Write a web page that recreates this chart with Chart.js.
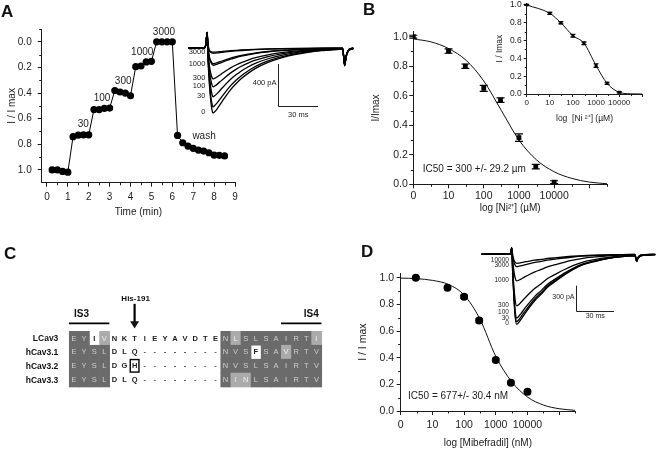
<!DOCTYPE html>
<html>
<head>
<meta charset="utf-8">
<script src="https://cdn.jsdelivr.net/npm/chart.js@4/dist/chart.umd.min.js"></script>
<style>
  body { margin: 0; background: #fff; }
  #fig { position: relative; width: 656px; height: 450px; overflow: hidden; background: #fff; }
  #fig canvas { position: absolute; }
  .panel { position: absolute; font: bold 17px/17px "Liberation Sans", Arial, sans-serif; color: #111; }
</style>
</head>
<body>
<div id="fig">
  <canvas id="cB" width="326" height="225" style="left:330px;top:0px"></canvas>
  <canvas id="cBi" width="166" height="133" style="left:490px;top:-8px"></canvas>
  <canvas id="cA" width="330" height="225" style="left:0px;top:0px"></canvas>
  <canvas id="cAi" width="176" height="100" style="left:180px;top:20px"></canvas>
  <canvas id="cC" width="330" height="225" style="left:0px;top:225px"></canvas>
  <canvas id="cD" width="326" height="225" style="left:330px;top:225px"></canvas>
  <canvas id="cDi" width="178" height="90" style="left:478px;top:240px"></canvas>
  <div class="panel" style="left:1px;top:3px">A</div>
  <div class="panel" style="left:363px;top:1px">B</div>
  <div class="panel" style="left:4px;top:245px">C</div>
  <div class="panel" style="left:361px;top:243px">D</div>
</div>
<script>
var FONT = '"Liberation Sans", Arial, Helvetica, sans-serif';
var INK = '#1c1c1c';

// ---- panel A : time course ----
var timeMin = [0.25, 0.5, 0.75, 1.0, 1.25, 1.5, 1.75, 2.0, 2.25, 2.5, 2.75, 3.0, 3.25, 3.5, 3.75, 4.0, 4.25, 4.5, 4.75, 5.0,
               5.25, 5.5, 5.75, 6.0, 6.25, 6.5, 6.75, 7.0, 7.25, 7.5, 7.75, 8.0, 8.25, 8.5];
var relCurrent = [1.0, 1.0, 1.012, 1.018, 0.741, 0.729, 0.726, 0.726, 0.529, 0.529, 0.519, 0.517, 0.38, 0.392, 0.4, 0.421,
                  0.194, 0.189, 0.157, 0.152, 0.0, 0.0, 0.0, 0.0, 0.731, 0.788, 0.814, 0.832, 0.845, 0.853, 0.866, 0.884, 0.886, 0.891];
var stepLabels = ['30', '100', '300', '1000', '3000', 'wash'];
var stepLabelX = [1.74, 2.64, 3.65, 4.56, 5.6, 7.52];
var stepLabelY = [0.646, 0.444, 0.305, 0.08, -0.075, 0.74];

// panel A inset traces (ms, pA)
var traceMsA   = [0, 12, 13.5, 14.3, 15, 16, 17, 18, 18.8, 20, 22, 25, 28, 32, 36, 40, 45, 50, 60, 70, 80, 90, 100, 110, 116, 117.5, 118.5, 120, 122, 124];
var spikeA     = [0, 0, 40, 150, 50, 0, 0, 0, 0, 0, 0, 0, 0, 0, 0, 0, 0, 0, 0, 0, 0, 0, 0, 0, 0, -160, -80, -25, -5, 0];
var shapeA     = [0, 0, 0, 0, 0.25, 0.55, 0.8, 0.95, 1.0, 0.98, 0.93, 0.84, 0.75, 0.64, 0.55, 0.47, 0.39, 0.32, 0.22, 0.15, 0.1, 0.065, 0.04, 0.025, 0.018, 0.016, 0.015, 0.013, 0.012, 0.01];
var traceAmpA  = [620, 560, 465, 370, 295, 165, 150, 50, 40];
var traceTagA  = ['0', '', '30', '100', '300', '1000', '', '3000', ''];

// ---- panel B : Ni2+ dose response ----
var logNi       = [0, 1, 1.477, 2, 2.477, 3, 3.477, 4];
var niMain      = [1.0, 0.903, 0.80, 0.65, 0.57, 0.316, 0.12, 0.014];
var niMainErr   = [0.01, 0.015, 0.015, 0.02, 0.015, 0.025, 0.015, 0.01];
var niFitLog    = [0, 0.5, 1, 1.5, 2, 2.5, 3, 3.5, 4, 4.5, 5, 5.5];
var niFit       = [0.985, 0.965, 0.92, 0.84, 0.70, 0.50, 0.30, 0.165, 0.085, 0.04, 0.015, 0.004];
var niInset     = [1.0, 0.906, 0.80, 0.655, 0.57, 0.32, 0.12, 0.019];
var niInsetErr  = [0.006, 0.012, 0.012, 0.015, 0.015, 0.02, 0.012, 0.008];
var niInsetFitLog = [0, 1, 1.477, 2, 2.477, 3, 3.477, 4, 4.5, 5];
var niInsetFit    = [1.0, 0.906, 0.80, 0.655, 0.57, 0.32, 0.12, 0.019, 0.002, 0.0];
var logTickLabels = ['0', '10', '100', '1000', '10000', ''];

// ---- panel C : alignment ----
var seqNames = ['LCav3', 'hCav3.1', 'hCav3.2', 'hCav3.3'];
var seqs = ['EYIVNKTIEYAVDTENLSLSAIRTI',
            'EYSLDLQ--------NVSFSAVRTV',
            'EYSLDGH--------NVSLSAIRTV',
            'EYSLDLQ--------NINLSAIRTV'];
var shade = ['DDWL' + 'WWWWWWWWWWW' + 'DLDDDDDDDL',
             'DDDD' + 'WWWWWWWWWWW' + 'DDDWDDLDDD',
             'DDDD' + 'WWWWWWWWWWW' + 'DDDDDDDDDD',
             'DDDD' + 'WWWWWWWWWWW' + 'DLLDDDDDDD'];

// ---- panel D : mibefradil dose response ----
var logMib  = [0.477, 1.477, 2, 2.477, 3, 3.477, 4];
var mib     = [1.0, 0.925, 0.857, 0.678, 0.383, 0.2125, 0.145];
var mibErr  = [0.008, 0.01, 0.012, 0.015, 0.012, 0.01, 0.015];
var mibFitLog = [0, 0.5, 1, 1.5, 2, 2.5, 3, 3.5, 4, 4.5, 5, 5.5];
var mibFit    = [0.997, 0.993, 0.98, 0.95, 0.87, 0.69, 0.41, 0.22, 0.105, 0.045, 0.017, 0.005];

var traceMsD  = [0, 22, 23, 23.7, 24.5, 25.5, 26.5, 27.6, 29, 31, 34, 38, 42, 47, 52, 58, 65, 72, 80, 90, 100, 110, 121, 122.3, 123.2, 125, 128, 137];
var spikeD    = [0, 0, 25, 75, 20, 0, 0, 0, 0, 0, 0, 0, 0, 0, 0, 0, 0, 0, 0, 0, 0, 0, 0, -70, -40, -12, -3, 0];
var shapeD    = [0, 0, 0, 0, 0.3, 0.65, 0.9, 1.0, 0.98, 0.93, 0.85, 0.75, 0.66, 0.57, 0.47, 0.39, 0.3, 0.22, 0.15, 0.1, 0.06, 0.035, 0.02, 0.018, 0.017, 0.015, 0.012, 0.005];
var traceAmpD = [829, 798, 755, 612, 316, 147, 107];
var traceTagD = ['0', '30', '100', '300', '1000', '3000', '10000'];

Chart.defaults.font.family = FONT;
Chart.defaults.color = INK;

function pts(xs, ys) {
    return xs.map(function (x, i) { return { x: x, y: ys[i] }; });
}

function axis(o) {
    return {
        type: 'linear', position: o.pos, min: o.min, max: o.max, reverse: !!o.rev,
        afterFit: function (s) { if (s.isHorizontal()) s.height = o.size; else s.width = o.size; },
        afterBuildTicks: function (s) { s.ticks = o.major.map(function (v) { return { value: v }; }); },
        ticks: {
            autoSkip: false, maxRotation: 0, padding: o.pad, color: INK,
            font: { family: FONT, size: o.fs },
            callback: o.fmt || function (v) { return v.toFixed(1); }
        },
        grid: { drawOnChartArea: false, drawTicks: true, tickLength: o.tl, color: INK, lineWidth: 1 },
        border: { display: true, color: INK, width: 1 },
        title: { display: !!o.title, text: o.title, color: INK, font: { family: FONT, size: o.tfs }, padding: o.tpad }
    };
}

function logFmt(v) { return logTickLabels[Math.round(v)]; }

function minorTicks(list) {
    return {
        id: 'minorTicks',
        afterDraw: function (chart) {
            var ctx = chart.ctx;
            ctx.save();
            ctx.strokeStyle = INK;
            ctx.lineWidth = 1;
            list.forEach(function (m) {
                var s = chart.scales[m.axis];
                m.values.forEach(function (v) {
                    var p = Math.round(s.getPixelForValue(v)) + 0.5;
                    ctx.beginPath();
                    if (s.isHorizontal()) { ctx.moveTo(p, s.top); ctx.lineTo(p, s.top + m.len); }
                    else { ctx.moveTo(s.right, p); ctx.lineTo(s.right - m.len, p); }
                    ctx.stroke();
                });
            });
            ctx.restore();
        }
    };
}

function errorBars(errs, cap) {
    return {
        id: 'errorBars',
        afterDatasetsDraw: function (chart) {
            var ctx = chart.ctx, ys = chart.scales.y;
            var meta = chart.getDatasetMeta(0), data = chart.data.datasets[0].data;
            ctx.save();
            ctx.strokeStyle = '#000';
            ctx.lineWidth = 1.2;
            meta.data.forEach(function (el, i) {
                var t = ys.getPixelForValue(data[i].y + errs[i]);
                var b = ys.getPixelForValue(data[i].y - errs[i]);
                ctx.beginPath();
                ctx.moveTo(el.x, t); ctx.lineTo(el.x, b);
                ctx.moveTo(el.x - cap, t); ctx.lineTo(el.x + cap, t);
                ctx.moveTo(el.x - cap, b); ctx.lineTo(el.x + cap, b);
                ctx.stroke();
            });
            ctx.restore();
        }
    };
}

function notes(items) {
    return {
        id: 'notes',
        afterDraw: function (chart) {
            var ctx = chart.ctx, xs = chart.scales.x, ys = chart.scales.y;
            items.forEach(function (n) {
                ctx.save();
                ctx.font = n.font;
                ctx.fillStyle = INK;
                ctx.textAlign = n.align || 'center';
                ctx.textBaseline = 'middle';
                ctx.fillText(n.text, xs.getPixelForValue(n.x), ys.getPixelForValue(n.y));
                ctx.restore();
            });
        }
    };
}

function baseOptions(pad, scales) {
    return {
        responsive: false, animation: false, devicePixelRatio: 1, events: [],
        layout: { padding: pad },
        plugins: { legend: { display: false }, tooltip: { enabled: false } },
        scales: scales
    };
}

// current traces drawn with hidden scales; scale bar + labels via plugin
function traceChart(id, ms, spike, shape, amps, tags, cfg) {
    var datasets = amps.map(function (a) {
        return {
            data: ms.map(function (t, i) { return { x: t, y: spike[i] - a * shape[i] }; }),
            showLine: true, borderColor: '#000', borderWidth: 1.3, pointRadius: 0,
            cubicInterpolationMode: 'monotone'
        };
    });
    var bar = {
        id: 'scaleBar',
        afterDraw: function (chart) {
            var ctx = chart.ctx, xs = chart.scales.x, ys = chart.scales.y;
            ctx.save();
            ctx.strokeStyle = '#222';
            ctx.lineWidth = 1;
            var bx = Math.round(xs.getPixelForValue(cfg.barT)) + 0.5;
            var by0 = ys.getPixelForValue(cfg.barY);
            var by1 = Math.round(ys.getPixelForValue(cfg.barY - cfg.barPA)) + 0.5;
            var bx1 = xs.getPixelForValue(cfg.barT + cfg.barMs);
            ctx.beginPath();
            ctx.moveTo(bx, by0); ctx.lineTo(bx, by1); ctx.lineTo(bx1, by1);
            ctx.stroke();
            ctx.fillStyle = INK;
            ctx.font = cfg.font;
            ctx.textBaseline = 'middle';
            ctx.textAlign = 'right';
            ctx.fillText(cfg.paText, bx - 2, ys.getPixelForValue(cfg.paAt));
            ctx.textAlign = 'center';
            ctx.fillText('30 ms', (bx + bx1) / 2, by1 + cfg.msGap);
            // concentration tags at the peaks, kept apart
            ctx.font = cfg.tagFont;
            ctx.textAlign = 'right';
            var tx = xs.getPixelForValue(cfg.tagT), prev = Infinity;
            amps.map(function (a, i) { return { a: a, tag: tags[i] }; })
                .filter(function (t) { return t.tag; })
                .sort(function (p, q) { return q.a - p.a; })
                .forEach(function (t) {
                    var y = Math.min(ys.getPixelForValue(-t.a) - 1, prev - cfg.gap);
                    prev = y;
                    ctx.fillText(t.tag, tx, y);
                });
            ctx.restore();
        }
    };
    return new Chart(document.getElementById(id), {
        type: 'scatter',
        data: { datasets: datasets },
        options: baseOptions(0, {
            x: { type: 'linear', display: false, min: cfg.xmin, max: cfg.xmax },
            y: { type: 'linear', display: false, min: cfg.ymin, max: cfg.ymax }
        }),
        plugins: [bar]
    });
}

// ---------- A ----------
new Chart(document.getElementById('cA'), {
    type: 'scatter',
    data: { datasets: [{
        data: pts(timeMin, relCurrent), showLine: true,
        borderColor: '#000', borderWidth: 1, pointRadius: 3.6,
        pointBackgroundColor: '#000', pointBorderColor: '#000', pointBorderWidth: 0
    }] },
    options: baseOptions({ left: 0, top: 29, right: 95, bottom: 0 }, {
        x: axis({ pos: 'bottom', min: -0.25, max: 9, size: 42.3, major: [0, 1, 2, 3, 4, 5, 6, 7, 8, 9],
                  fmt: function (v) { return String(v); }, pad: 4.5, tl: 4, fs: 10,
                  title: 'Time (min)', tfs: 10, tpad: { top: 0, bottom: 7 } }),
        y: axis({ pos: 'left', min: -0.1, max: 1.1, rev: true, size: 41.7, major: [0, 0.2, 0.4, 0.6, 0.8, 1.0],
                  pad: 6, tl: 4, fs: 10, title: 'I / I max', tfs: 10, tpad: { top: 6, bottom: 0 } })
    }),
    plugins: [
        minorTicks([{ axis: 'x', len: 2.5, values: [0.5, 1.5, 2.5, 3.5, 4.5, 5.5, 6.5, 7.5, 8.5] },
                    { axis: 'y', len: 2.5, values: [-0.1, 0.1, 0.3, 0.5, 0.7, 0.9] }]),
        notes(stepLabels.map(function (t, i) {
            return { text: t, x: stepLabelX[i], y: stepLabelY[i], font: '10px ' + FONT };
        }))
    ]
});

traceChart('cAi', traceMsA, spikeA, shapeA, traceAmpA, traceTagA, {
    xmin: -6, xmax: 126, ymin: -686, ymax: 267,
    barT: 67.5, barY: -152, barPA: 400, barMs: 30, paText: '400 pA', paAt: -333, msGap: 8,
    font: '7.5px ' + FONT, tagFont: '7.5px ' + FONT, tagT: 13, gap: 8
});

// ---------- B ----------
new Chart(document.getElementById('cB'), {
    type: 'scatter',
    data: { datasets: [
        { data: pts(logNi, niMain), pointRadius: 3.4, pointStyle: 'rect',
          pointBackgroundColor: '#000', pointBorderColor: '#000', pointBorderWidth: 0 },
        { data: pts(niFitLog, niFit), showLine: true, borderColor: '#111', borderWidth: 1,
          pointRadius: 0, cubicInterpolationMode: 'monotone' }
    ] },
    options: baseOptions({ left: 0, top: 31.7, right: 49, bottom: 0 }, {
        x: axis({ pos: 'bottom', min: 0, max: 5.5, size: 40.7, major: [0, 1, 2, 3, 4, 5], fmt: logFmt,
                  pad: 2, tl: 4, fs: 10.5, title: 'log [Ni\u00B2\u207A] (\u00B5M)', tfs: 10,
                  tpad: { top: 0, bottom: 10.5 } }),
        y: axis({ pos: 'left', min: 0, max: 1.034, size: 83.3, major: [0, 0.2, 0.4, 0.6, 0.8, 1.0],
                  pad: 1.5, tl: 4, fs: 10.5, title: 'I/Imax', tfs: 10, tpad: { top: 40.7, bottom: 0 } })
    }),
    plugins: [
        minorTicks([{ axis: 'x', len: 2.5, values: [0.5, 1.5, 2.5, 3.5, 4.5, 5.5] },
                    { axis: 'y', len: 2.5, values: [0.1, 0.3, 0.5, 0.7, 0.9] }]),
        errorBars(niMainErr, 4),
        notes([{ text: 'IC50 = 300 +/- 29.2 \u00B5m', x: 0.27, y: 0.1, align: 'left', font: '10px ' + FONT }])
    ]
});

new Chart(document.getElementById('cBi'), {
    type: 'scatter',
    data: { datasets: [
        { data: pts(logNi, niInset), pointRadius: 2.2, pointStyle: 'rect',
          pointBackgroundColor: '#000', pointBorderColor: '#000', pointBorderWidth: 0 },
        { data: pts(niInsetFitLog, niInsetFit), showLine: true, borderColor: '#111', borderWidth: 1,
          pointRadius: 0, cubicInterpolationMode: 'monotone' }
    ] },
    options: baseOptions({ left: 0, top: 11.2, right: 13.7, bottom: 0 }, {
        x: axis({ pos: 'bottom', min: 0, max: 5, size: 31, major: [0, 1, 2, 3, 4, 5], fmt: logFmt,
                  pad: 1, tl: 3, fs: 8, title: 'log  [Ni \u00B2\u207A] (\u00B5M)', tfs: 8.5,
                  tpad: { top: 0, bottom: 1.5 } }),
        y: axis({ pos: 'left', min: 0, max: 1.02, size: 36.7, major: [0, 0.2, 0.4, 0.6, 0.8, 1.0],
                  pad: 2, tl: 3, fs: 8.5, title: 'I / Imax', tfs: 8.5, tpad: { top: 4.6, bottom: 0 } })
    }),
    plugins: [
        minorTicks([{ axis: 'x', len: 2, values: [0.5, 1.5, 2.5, 3.5, 4.5] },
                    { axis: 'y', len: 2, values: [0.1, 0.3, 0.5, 0.7, 0.9] }]),
        errorBars(niInsetErr, 2.5)
    ]
});

// ---------- C ----------
var cells = [];
seqs.forEach(function (s, r) {
    for (var c = 0; c < s.length; c++) cells.push({ x: c + 0.5, y: r + 0.5 });
});
var alignment = {
    id: 'alignment',
    afterDatasetsDraw: function (chart) {
        var ctx = chart.ctx, xs = chart.scales.x, ys = chart.scales.y;
        var px = function (v) { return xs.getPixelForValue(v); };
        var py = function (v) { return ys.getPixelForValue(v); };
        var cw = px(1) - px(0), rh = py(1) - py(0);
        var fills = { D: '#6b6b6b', L: '#ababab' };
        var inkFor = { D: '#cfcfcf', L: '#eeeeee', W: '#1a1a1a' };
        ctx.save();
        seqs.forEach(function (seq, r) {
            for (var c = 0; c < seq.length; c++) {
                var k = shade[r][c];
                if (fills[k]) {
                    ctx.fillStyle = fills[k];
                    ctx.fillRect(px(c), py(r), cw + 0.6, rh + 0.6);
                }
            }
        });
        ctx.textAlign = 'center';
        ctx.textBaseline = 'middle';
        seqs.forEach(function (seq, r) {
            for (var c = 0; c < seq.length; c++) {
                var k = shade[r][c], ch = seq[c];
                ctx.fillStyle = ch === '-' ? '#555' : inkFor[k];
                ctx.font = (k === 'W' ? 'bold ' : '') + '7.5px ' + FONT;
                ctx.fillText(ch, px(c + 0.5), py(r + 0.5) + 0.5);
            }
            ctx.fillStyle = '#111';
            ctx.font = 'bold 8.5px ' + FONT;
            ctx.textAlign = 'right';
            ctx.fillText(seqNames[r], px(-1.05), py(r + 0.5) + 0.5);
            ctx.textAlign = 'center';
        });
        // boxed His residue
        ctx.strokeStyle = '#000';
        ctx.lineWidth = 1.4;
        ctx.strokeRect(px(6) + 0.7, py(2) + 0.7, cw - 1.4, rh - 1.4);
        // IS3 / IS4 segment bars
        ctx.lineWidth = 1.8;
        ctx.beginPath();
        ctx.moveTo(px(0), py(-0.55)); ctx.lineTo(px(4), py(-0.55));
        ctx.moveTo(px(21), py(-0.55)); ctx.lineTo(px(25), py(-0.55));
        ctx.stroke();
        ctx.fillStyle = '#111';
        ctx.font = 'bold 10px ' + FONT;
        ctx.fillText('IS3', px(1.25), py(-1.22));
        ctx.fillText('IS4', px(24), py(-1.22));
        // arrow to His-191
        var ax = px(6.5);
        ctx.lineWidth = 2.2;
        ctx.beginPath();
        ctx.moveTo(ax, py(-1.95)); ctx.lineTo(ax, py(-0.6));
        ctx.stroke();
        ctx.beginPath();
        ctx.moveTo(ax - 4.5, py(-0.7)); ctx.lineTo(ax + 4.5, py(-0.7)); ctx.lineTo(ax, py(-0.18));
        ctx.closePath();
        ctx.fill();
        ctx.font = 'bold 8px ' + FONT;
        ctx.fillText('His-191', ax + 1, py(-2.3));
        ctx.restore();
    }
};
new Chart(document.getElementById('cC'), {
    type: 'scatter',
    data: { datasets: [{ data: cells, pointRadius: 0 }] },
    options: baseOptions({ left: 68.95, top: 106, right: 8.55, bottom: 63.3 }, {
        x: { type: 'linear', display: false, min: 0, max: 25 },
        y: { type: 'linear', display: false, min: 0, max: 4, reverse: true }
    }),
    plugins: [alignment]
});

// ---------- D ----------
new Chart(document.getElementById('cD'), {
    type: 'scatter',
    data: { datasets: [
        { data: pts(logMib, mib), pointRadius: 4,
          pointBackgroundColor: '#000', pointBorderColor: '#000', pointBorderWidth: 0 },
        { data: pts(mibFitLog, mibFit), showLine: true, borderColor: '#111', borderWidth: 1,
          pointRadius: 0, cubicInterpolationMode: 'monotone' }
    ] },
    options: baseOptions({ left: 0, top: 48.3, right: 81, bottom: 0 }, {
        x: axis({ pos: 'bottom', min: 0, max: 5.5, size: 39, major: [0, 1, 2, 3, 4, 5], fmt: logFmt,
                  pad: 4, tl: 4, fs: 10.5, title: 'log [Mibefradil] (nM)', tfs: 10,
                  tpad: { top: 0, bottom: 1 } }),
        y: axis({ pos: 'left', min: 0, max: 1.033, size: 70.7, major: [0, 0.2, 0.4, 0.6, 0.8, 1.0],
                  pad: 2.5, tl: 4, fs: 10.5, title: 'I / I max', tfs: 10.5, tpad: { top: 27, bottom: 0 } })
    }),
    plugins: [
        minorTicks([{ axis: 'x', len: 2.5, values: [0.5, 1.5, 2.5, 3.5, 4.5, 5.5] },
                    { axis: 'y', len: 2.5, values: [0.1, 0.3, 0.5, 0.7, 0.9] }]),
        errorBars(mibErr, 3.5),
        notes([{ text: 'IC50 = 677+/- 30.4 nM', x: 0.23, y: 0.107, align: 'left', font: '10px ' + FONT }])
    ]
});

traceChart('cDi', traceMsD, spikeD, shapeD, traceAmpD, traceTagD, {
    xmin: -2.9, xmax: 137.6, ymin: -897, ymax: 169,
    barT: 74.4, barY: -372, barPA: 300, barMs: 30, paText: '300 pA', paAt: -502, msGap: 5,
    font: '7px ' + FONT, tagFont: '6.5px ' + FONT, tagT: 21.5, gap: 5.5
});
</script>
</body>
</html>
